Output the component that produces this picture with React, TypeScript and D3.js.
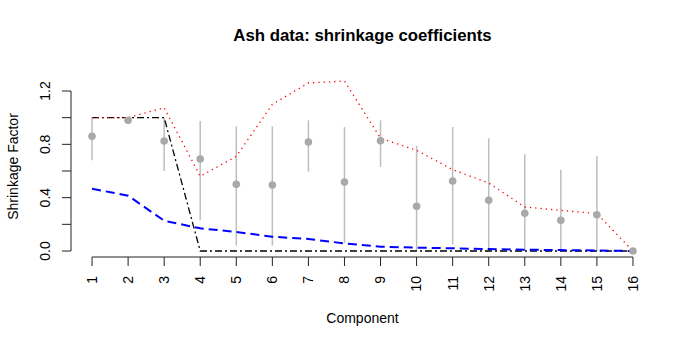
import React, { useRef, useEffect } from 'react';
import * as d3 from 'd3';

const components = d3.range(1, 17);
const estimates = [0.86, 0.98, 0.825, 0.69, 0.5, 0.495, 0.818, 0.518, 0.827, 0.335, 0.525, 0.38, 0.283, 0.23, 0.272, 0.0];
const upper = [1.0, 0.99, 1.0, 0.975, 0.935, 0.935, 0.98, 0.93, 0.98, 0.79, 0.93, 0.845, 0.725, 0.61, 0.71, 0.0];
const lower = [0.68, 0.97, 0.6, 0.23, 0.04, 0.04, 0.595, 0.06, 0.63, 0.0, 0.05, 0.0, 0.0, 0.0, 0.0, 0.0];
const redDotted = [1.0, 1.0, 1.075, 0.56, 0.71, 1.1, 1.26, 1.275, 0.845, 0.755, 0.61, 0.51, 0.33, 0.305, 0.28, 0.0];
const blueDashed = [0.467, 0.415, 0.227, 0.17, 0.143, 0.107, 0.09, 0.057, 0.032, 0.025, 0.02, 0.015, 0.01, 0.007, 0.004, 0.0];
const blackDotDash = [1, 1, 1, 0, 0, 0, 0, 0, 0, 0, 0, 0, 0, 0, 0, 0];
const yTicks = [0, 0.2, 0.4, 0.6, 0.8, 1.0, 1.2];
const yLabels = [0, 0.4, 0.8, 1.2];

const ShrinkagePlot = ({ width, height }) => {
  const chartRef = useRef(null);

  useEffect(() => {
    d3.select(chartRef.current).selectAll('*').remove();

    const svg = d3.select(chartRef.current)
      .append('svg')
      .attr('width', width)
      .attr('height', height)
      .style('position', 'absolute')
      .style('left', 0)
      .style('top', 0)
      .style('font-family', 'Liberation Sans, Arial, sans-serif');

    // R pads the x range by 4% on both sides
    const x = d3.scaleLinear().domain([0.4, 16.6]).range([70.4, 654.6]);
    const y = d3.scaleLinear().domain([0, 1.2]).range([251, 91]);

    svg.append('text')
      .attr('x', 362.5)
      .attr('y', 41)
      .attr('text-anchor', 'middle')
      .attr('font-size', 16.8)
      .attr('font-weight', 'bold')
      .text('Ash data: shrinkage coefficients');

    // x axis
    const xa = svg.append('g').attr('stroke', '#222');
    xa.append('line')
      .attr('x1', x(1)).attr('x2', x(16))
      .attr('y1', 257).attr('y2', 257);
    xa.selectAll('.xt')
      .data(components)
      .enter()
      .append('line')
      .attr('x1', d => x(d)).attr('x2', d => x(d))
      .attr('y1', 257).attr('y2', 266);
    svg.selectAll('.xl')
      .data(components)
      .enter()
      .append('text')
      .attr('transform', d => `translate(${x(d)},276) rotate(-90)`)
      .attr('text-anchor', 'end')
      .attr('dy', '0.35em')
      .attr('font-size', 14)
      .text(d => d);

    // y axis
    const ya = svg.append('g').attr('stroke', '#222');
    ya.append('line')
      .attr('x1', 71).attr('x2', 71)
      .attr('y1', y(0)).attr('y2', y(1.2));
    ya.selectAll('.yt')
      .data(yTicks)
      .enter()
      .append('line')
      .attr('x1', 62).attr('x2', 71)
      .attr('y1', d => y(d)).attr('y2', d => y(d));
    svg.selectAll('.yl')
      .data(yLabels)
      .enter()
      .append('text')
      .attr('transform', d => `translate(50,${y(d)}) rotate(-90)`)
      .attr('text-anchor', 'middle')
      .attr('font-size', 14)
      .text(d => d3.format('.1f')(d));

    svg.append('text')
      .attr('transform', 'translate(18,166.5) rotate(-90)')
      .attr('text-anchor', 'middle')
      .attr('font-size', 14)
      .text('Shrinkage Factor');

    svg.append('text')
      .attr('x', 362.5)
      .attr('y', 323)
      .attr('text-anchor', 'middle')
      .attr('font-size', 14)
      .text('Component');

    // error bars
    svg.selectAll('.eb')
      .data(components)
      .enter()
      .append('line')
      .attr('x1', d => x(d)).attr('x2', d => x(d))
      .attr('y1', (d, i) => y(lower[i])).attr('y2', (d, i) => y(upper[i]))
      .attr('stroke', '#bebebe')
      .attr('stroke-width', 1.5);

    const line = d3.line()
      .x((d, i) => x(components[i]))
      .y(d => y(d));

    svg.append('path')
      .attr('d', line(blackDotDash))
      .attr('fill', 'none')
      .attr('stroke', '#000')
      .attr('stroke-width', 1.3)
      .attr('stroke-dasharray', '7 3 2 3');

    svg.append('path')
      .attr('d', line(redDotted))
      .attr('fill', 'none')
      .attr('stroke', '#ff0000')
      .attr('stroke-width', 1.3)
      .attr('stroke-dasharray', '1.3 4');

    svg.append('path')
      .attr('d', line(blueDashed))
      .attr('fill', 'none')
      .attr('stroke', '#0000ff')
      .attr('stroke-width', 2)
      .attr('stroke-dasharray', '9 5');

    svg.selectAll('.pt')
      .data(components)
      .enter()
      .append('circle')
      .attr('cx', d => x(d))
      .attr('cy', (d, i) => y(estimates[i]))
      .attr('r', 3.8)
      .attr('fill', '#a9a9a9');
  }, [width, height]);

  return <div ref={chartRef}></div>;
};

export default function App() {
  return <ShrinkagePlot width={692} height={346} />;
}
